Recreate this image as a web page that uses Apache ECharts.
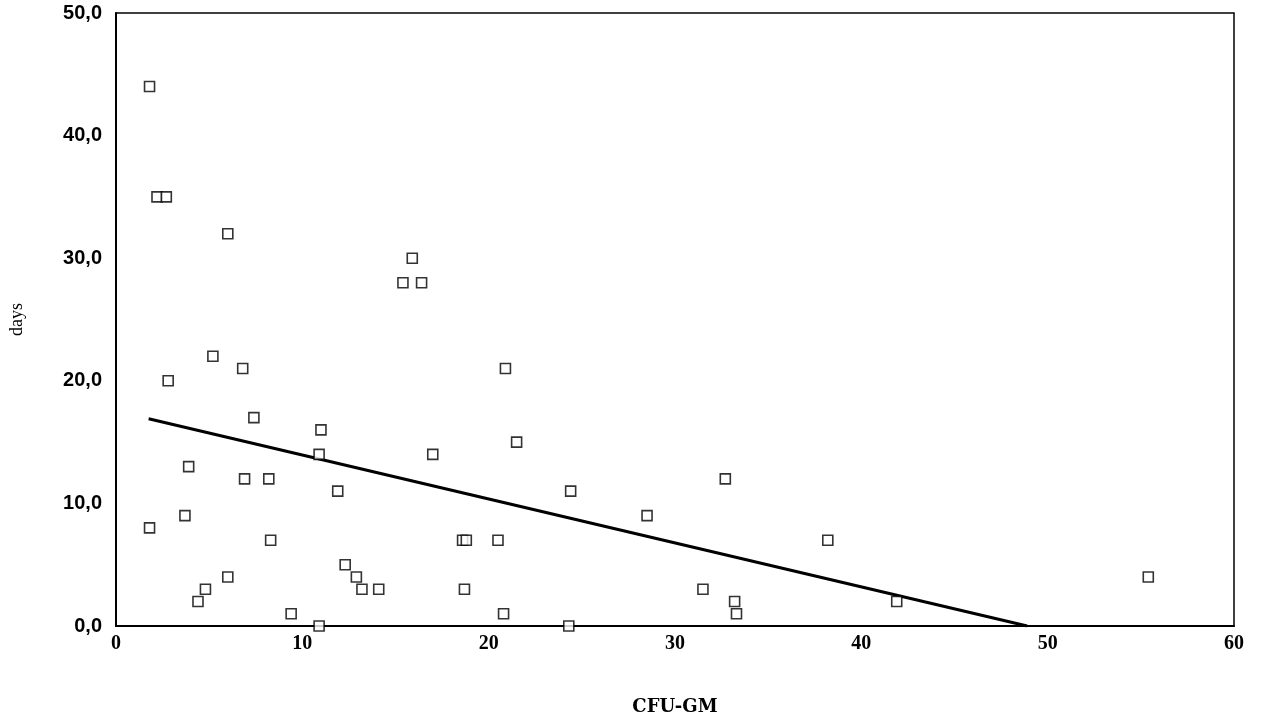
<!DOCTYPE html>
<html>
<head>
<meta charset="utf-8">
<script src="https://cdn.jsdelivr.net/npm/echarts@6/dist/echarts.min.js"></script>
<style>html,body{margin:0;padding:0;background:#fff}#c{width:1261px;height:723px}</style>
</head>
<body>
<div id="c"></div>
<script>
const cfuGM = [1.8, 2.2, 2.7, 6.0, 15.9, 15.4, 16.4, 5.2, 2.8, 6.8, 20.9, 7.4, 11.0, 21.5, 10.9, 17.0,
  3.9, 6.9, 8.2, 32.7, 11.9, 24.4, 3.7, 28.5, 1.8, 8.3, 18.6, 18.8, 20.5, 38.2, 55.4, 6.0,
  12.3, 12.9, 13.2, 14.1, 18.7, 4.8, 4.4, 31.5, 33.2, 33.3, 41.9, 9.4, 20.8, 10.9, 24.3];
const days = [44, 35, 35, 32, 30, 28, 28, 22, 20, 21, 21, 17, 16, 15, 14, 14,
  13, 12, 12, 12, 11, 11, 9, 9, 8, 7, 7, 7, 7, 7, 4, 4,
  5, 4, 3, 3, 3, 3, 2, 3, 2, 1, 2, 1, 1, 0, 0];
const fitX = [1.75, 48.9];
const fitY = [16.9, 0];
const xTicks = [0, 10, 20, 30, 40, 50, 60];
const yTicks = [0, 10, 20, 30, 40, 50];

const pts = cfuGM.map((x, i) => [x, days[i]]);
const fit = fitX.map((x, i) => [x, fitY[i]]);
const serif = '"Liberation Serif", "DejaVu Serif", serif';
const sans = '"Liberation Sans", "DejaVu Sans", sans-serif';

const chart = echarts.init(document.getElementById('c'));
chart.setOption({
  animation: false,
  backgroundColor: '#fff',
  grid: { left: 114, right: 27, top: 13, bottom: 97, show: true, borderColor: '#000', borderWidth: 1.5, backgroundColor: 'transparent' },
  xAxis: {
    type: 'value', min: xTicks[0], max: xTicks[xTicks.length - 1], interval: 10,
    name: 'CFU-GM', nameLocation: 'middle', nameGap: 72,
    nameTextStyle: { fontFamily: '"DejaVu Serif", serif', fontSize: 18, fontWeight: 'bold', color: '#000' },
    axisLine: { show: true, lineStyle: { color: '#000', width: 2 } },
    axisTick: { show: false },
    splitLine: { show: false },
    axisLabel: { fontFamily: serif, fontSize: 20, fontWeight: 'bold', color: '#000', margin: 8 }
  },
  yAxis: {
    type: 'value', min: yTicks[0], max: yTicks[yTicks.length - 1], interval: 10,
    name: 'days', nameLocation: 'middle', nameGap: 90, nameRotate: 90,
    nameTextStyle: { fontFamily: serif, fontSize: 18, color: '#000' },
    axisLine: { show: true, lineStyle: { color: '#000', width: 2 } },
    axisTick: { show: false },
    splitLine: { show: false },
    axisLabel: { fontFamily: sans, fontSize: 20, fontWeight: 'bold', color: '#000', margin: 14,
      formatter: v => v.toFixed(1).replace('.', ',') }
  },
  series: [
    { type: 'line', data: fit, symbol: 'none', lineStyle: { color: '#000', width: 3 }, z: 2 },
    { type: 'scatter', data: pts, symbol: 'rect', symbolSize: 10,
      itemStyle: { color: '#fff', borderColor: '#000', borderWidth: 1.6 }, z: 3 }
  ]
});
</script>
</body>
</html>
